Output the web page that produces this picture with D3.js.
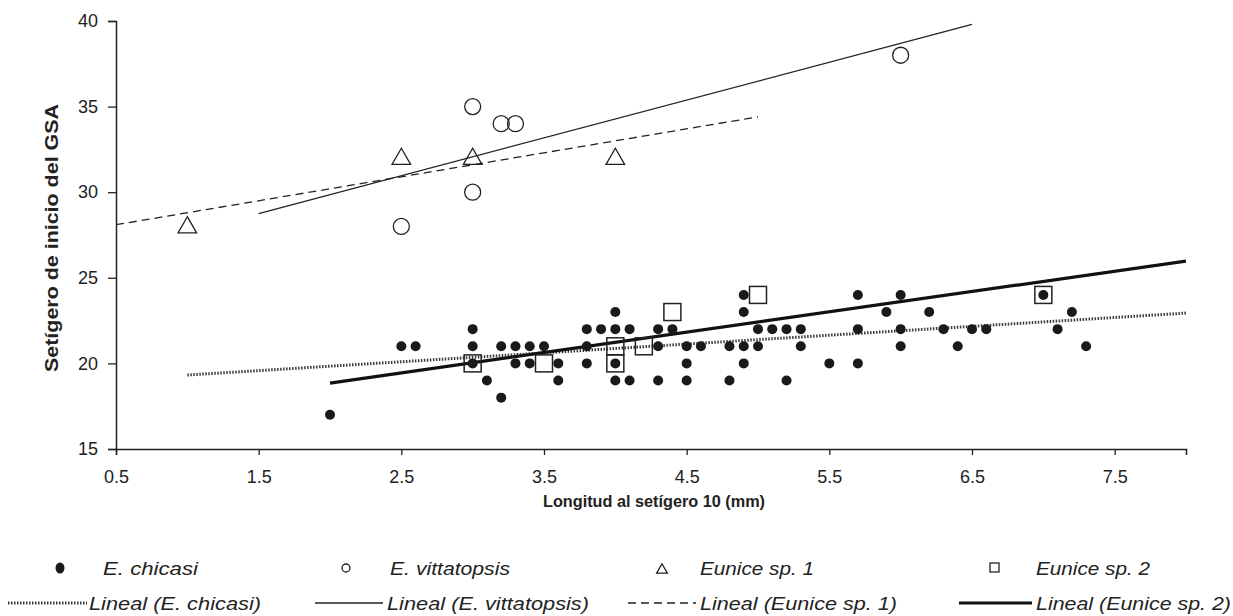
<!DOCTYPE html>
<html><head><meta charset="utf-8">
<script src="https://cdn.jsdelivr.net/npm/d3@7"></script>
<style>body{margin:0;background:#fff}svg{display:block}text{font-family:"Liberation Sans",Arial,sans-serif;fill:#222}</style>
</head><body>
<svg id="c" width="1233" height="616"></svg>
<script>
const xTicks=[0.5,1.5,2.5,3.5,4.5,5.5,6.5,7.5];
const yTicks=[15,20,25,30,35,40];
const chicasiX=[2,2.5,2.6,3,3,3,3.1,3.2,3.2,3.3,3.3,3.4,3.4,3.5,3.6,3.6,3.8,3.8,3.8,3.9,4,4,4,4,4.1,4.1,4.3,4.3,4.3,4.4,4.5,4.5,4.5,4.6,4.8,4.8,4.9,4.9,4.9,4.9,5,5,5.1,5.2,5.2,5.3,5.3,5.5,5.7,5.7,5.7,5.9,6,6,6,6.2,6.3,6.4,6.5,6.6,7,7.1,7.2,7.3];
const chicasiY=[17,21,21,22,21,20,19,21,18,21,20,21,20,21,20,19,22,21,20,22,23,22,20,19,22,19,22,21,19,22,21,20,19,21,21,19,24,23,21,20,22,21,22,22,19,22,21,20,24,22,20,23,24,22,21,23,22,21,22,22,24,22,23,21];
const vittX=[2.5,3,3,3.2,3.3,6];
const vittY=[28,35,30,34,34,38];
const sp1X=[1,2.5,3,4];
const sp1Y=[28,32,32,32];
const sp2X=[3,3.5,4,4,4.2,4.4,5,7];
const sp2Y=[20,20,21,20,21,23,24,24];
// linear trend lines: [x, y] at both ends
const trendChicasi=[[1,19.32],[8,22.94]];
const trendVitt=[[1.5,28.75],[6.5,39.8]];
const trendSp1=[[0.5,28.1],[5,34.4]];
const trendSp2=[[2,18.85],[8,25.98]];
const legendLabels=["E. chicasi","E. vittatopsis","Eunice sp. 1","Eunice sp. 2"];

const svg=d3.select("#c");
const x=d3.scaleLinear().domain([0.5,8]).range([116,1186]);
const y=d3.scaleLinear().domain([15,40]).range([449,21]);
const line=d3.line().x(d=>x(d[0])).y(d=>y(d[1]));

svg.append("clipPath").attr("id","pc").append("rect").attr("x",116).attr("y",0).attr("width",1070).attr("height",449);
const g=svg.append("g").attr("clip-path","url(#pc)");

const chStyle=s=>s.attr("stroke","#3a3a3a").attr("stroke-width",3).attr("stroke-dasharray","1.5,1.5").attr("fill","none");
const dashStyle=s=>s.attr("stroke","#222").attr("stroke-width",1.3).attr("stroke-dasharray","8,5").attr("fill","none");
g.append("path").attr("d",line(trendChicasi)).call(chStyle);
g.append("path").attr("d",line(trendVitt)).attr("stroke","#222").attr("stroke-width",1.2).attr("fill","none");
g.append("path").attr("d",line(trendSp1)).call(dashStyle);
g.append("path").attr("d",line(trendSp2)).attr("stroke","#111").attr("stroke-width",3.2).attr("fill","none");

g.selectAll(".ch").data(chicasiX).join("circle").attr("cx",d=>x(d)).attr("cy",(d,i)=>y(chicasiY[i])).attr("r",5).attr("fill","#1a1a1a");
g.selectAll(".vi").data(vittX).join("circle").attr("cx",d=>x(d)).attr("cy",(d,i)=>y(vittY[i])).attr("r",8).attr("fill","none").attr("stroke","#222").attr("stroke-width",1.3);
const tri=d3.symbol().type(d3.symbolTriangle).size(150);
g.selectAll(".s1").data(sp1X).join("path").attr("d",tri).attr("transform",(d,i)=>`translate(${x(d)},${y(sp1Y[i])+1})`).attr("fill","none").attr("stroke","#222").attr("stroke-width",1.3);
g.selectAll(".s2").data(sp2X).join("rect").attr("x",d=>x(d)-8.5).attr("y",(d,i)=>y(sp2Y[i])-8.5).attr("width",17).attr("height",17).attr("fill","none").attr("stroke","#222").attr("stroke-width",1.5);

const xa=svg.append("g").attr("transform","translate(0,449)").call(d3.axisBottom(x).tickValues(xTicks).tickSize(6).tickFormat(d3.format(".1f")).tickPadding(11));
const ya=svg.append("g").attr("transform","translate(116,0)").call(d3.axisLeft(y).tickValues(yTicks).tickSize(8).tickPadding(10));
[xa,ya].forEach(a=>{a.select(".domain").attr("stroke","#222").attr("stroke-width",1.5);a.selectAll(".tick line").attr("stroke","#222").attr("stroke-width",1.3);a.selectAll("text").attr("font-size",18).attr("fill","#333").style("font-family","Liberation Sans, Arial, sans-serif");});
xa.selectAll("text").attr("dy","0.95em");

svg.append("text").attr("x",654).attr("y",507).attr("text-anchor","middle").attr("font-size",16).attr("font-weight","bold").attr("textLength",222).attr("lengthAdjust","spacingAndGlyphs").text("Longitud al setígero 10 (mm)");
svg.append("text").attr("transform","translate(58,238) rotate(-90)").attr("text-anchor","middle").attr("font-size",19).attr("font-weight","bold").attr("textLength",268).attr("lengthAdjust","spacingAndGlyphs").text("Setígero de inicio del GSA");

const L=svg.append("g");
const r1=568,r2=603;
function lt(xp,yp,w,t){L.append("text").attr("x",xp).attr("y",yp+6.5).attr("font-size",18).attr("font-style","italic").attr("textLength",w).attr("lengthAdjust","spacingAndGlyphs").text(t);}
L.append("ellipse").attr("cx",60).attr("cy",r1).attr("rx",4.5).attr("ry",5.5).attr("fill","#1a1a1a");
lt(103,r1,95,legendLabels[0]);
L.append("circle").attr("cx",346).attr("cy",r1).attr("r",4).attr("fill","none").attr("stroke","#222").attr("stroke-width",1.3);
lt(390,r1,120,legendLabels[1]);
L.append("path").attr("d",d3.symbol().type(d3.symbolTriangle).size(50)).attr("transform",`translate(662,${r1+2})`).attr("fill","none").attr("stroke","#222").attr("stroke-width",1.3);
lt(700,r1,114,legendLabels[2]);
L.append("rect").attr("x",990).attr("y",r1-5).attr("width",9).attr("height",9).attr("fill","none").attr("stroke","#222").attr("stroke-width",1.3);
lt(1036,r1,114,legendLabels[3]);

L.append("line").attr("x1",8).attr("x2",87).attr("y1",r2).attr("y2",r2).call(chStyle);
lt(89,r2,172,`Lineal (${legendLabels[0]})`);
L.append("line").attr("x1",315).attr("x2",383).attr("y1",r2).attr("y2",r2).attr("stroke","#222").attr("stroke-width",1.3);
lt(387,r2,202,`Lineal (${legendLabels[1]})`);
L.append("line").attr("x1",628).attr("x2",696).attr("y1",r2).attr("y2",r2).call(dashStyle);
lt(700,r2,197,`Lineal (${legendLabels[2]})`);
L.append("line").attr("x1",959).attr("x2",1032).attr("y1",r2).attr("y2",r2).attr("stroke","#111").attr("stroke-width",3.2);
lt(1036,r2,195,`Lineal (${legendLabels[3]})`);
</script>
</body></html>
